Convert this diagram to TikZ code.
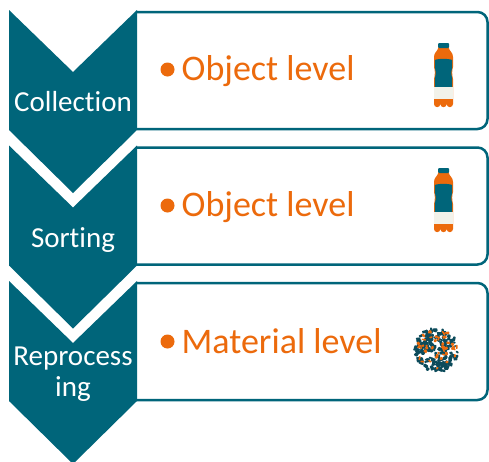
\documentclass[tikz,border=0pt]{standalone}
\usepackage{fontspec}
\setmainfont[Ligatures=NoCommon]{Carlito}
\definecolor{stepteal}{HTML}{00657A}
\definecolor{darkteal}{HTML}{0C4B5B}
\definecolor{accent}{HTML}{EC6A0C}
\definecolor{labelwhite}{HTML}{F2F2EA}

\tikzset{
  stepbox/.style={fill=stepteal, draw=none},
  framebox/.style={draw=stepteal, line width=2.5pt, rounded corners=10pt},
  steptext/.style={text=white, inner sep=0pt, anchor=base,
    font=\fontsize{29}{32}\selectfont},
  itemtext/.style={text=accent, inner sep=0pt, anchor=base west,
    font=\fontsize{36}{40}\selectfont},
  itemdot/.style={circle, fill=accent, inner sep=0pt, minimum size=14pt},
  pics/bottle/.style={code={
    % orange silhouette with scalloped base
    \fill[accent] (-5,4) -- (5,4) .. controls (6,9) and (9.5,9) .. (9.5,14)
      -- (9.5,24) .. controls (8.4,27) and (8.4,32) .. (9.5,36) -- (9.5,61)
      arc (0:180:3.1667) arc (0:180:3.1667) arc (0:180:3.1667)
      -- (-9.5,36) .. controls (-8.4,32) and (-8.4,27) .. (-9.5,24)
      -- (-9.5,14) .. controls (-9.5,9) and (-6,9) .. (-5,4) -- cycle;
    % cap
    \fill[stepteal, rounded corners=1pt] (-5.5,0) rectangle (5.5,5);
    % body
    \fill[stepteal] (-8.6,17) .. controls (-6,15.5) and (6,15.5) .. (8.6,17)
      -- (8.6,25) .. controls (7.6,28) and (7.6,32) .. (8.6,35) -- (8.6,44)
      -- (-8.6,44) -- (-8.6,35) .. controls (-7.6,32) and (-7.6,28) .. (-8.6,25) -- cycle;
    % label band
    \fill[labelwhite] (-9.5,44) rectangle (9.5,56);
  }}
}

\begin{document}
\begin{tikzpicture}[x=1pt, y=-1pt]
\useasboundingbox[fill=white] (0,0) rectangle (489,461);

% framed content boxes behind the steps
\foreach \t in {10,145.5,281} {
  \draw[framebox] (137,\t+2) -- (487.5,\t+2) -- (487.5,\t+119) -- (137,\t+119);
}

% chevron steps
\foreach \t in {10,145.5,281} {
  \fill[stepbox] (9,\t) -- (73,\t+62) -- (137,\t) -- (137,\t+120)
    -- (73,\t+183) -- (9,\t+120) -- cycle;
}

% step labels
\node[steptext] (collect) at (73,111) {Collection};
\node[steptext] (sort) at (73,247) {Sorting};
\node[steptext] (repro1) at (73,365) {Reprocess};
\node[steptext] (repro2) at (73,396) {ing};

% bullet items
\node[itemdot] (dot1) at (167.5,69.5) {};
\node[itemtext] (item1) at (181.5,80) {Object level};
\node[itemdot] (dot2) at (167.5,205.5) {};
\node[itemtext] (item2) at (181.5,216) {Object level};
\node[itemdot] (dot3) at (167.5,341.5) {};
\node[itemtext] (item3) at (181.5,353) {Material level};

% bottle icons
\pic at (443.5,43) {bottle};
\pic at (443.5,168) {bottle};

% granulate icon
\pgfmathsetseed{17}
\foreach \i in {1,...,165} {
  \pgfmathsetmacro\ang{rnd*360}
  \pgfmathsetmacro\rad{22*sqrt(rnd)}
  \pgfmathsetmacro\rot{rnd*180}
  \pgfmathsetmacro\w{2.5+rnd*3.5}
  \pgfmathsetmacro\h{1.8+rnd*2.4}
  \fill[darkteal, shift={(437,350)}, shift={(\ang:\rad)}, rotate=\rot,
    rounded corners=0.6pt] (-\w/2,-\h/2) -- (\w/2,-\h/3) -- (\w/2.4,\h/2) -- (-\w/2.2,\h/2.5) -- cycle;
}
\foreach \i in {1,...,45} {
  \pgfmathsetmacro\ang{rnd*360}
  \pgfmathsetmacro\rad{20*sqrt(rnd)}
  \pgfmathsetmacro\rot{rnd*180}
  \pgfmathsetmacro\w{2+rnd*2.5}
  \pgfmathsetmacro\h{1.5+rnd*1.8}
  \fill[accent, shift={(437,350)}, shift={(\ang:\rad)}, rotate=\rot,
    rounded corners=0.5pt] (-\w/2,-\h/2) -- (\w/2,-\h/3) -- (\w/2.4,\h/2) -- (-\w/2.2,\h/2.5) -- cycle;
}
\end{tikzpicture}
\end{document}
